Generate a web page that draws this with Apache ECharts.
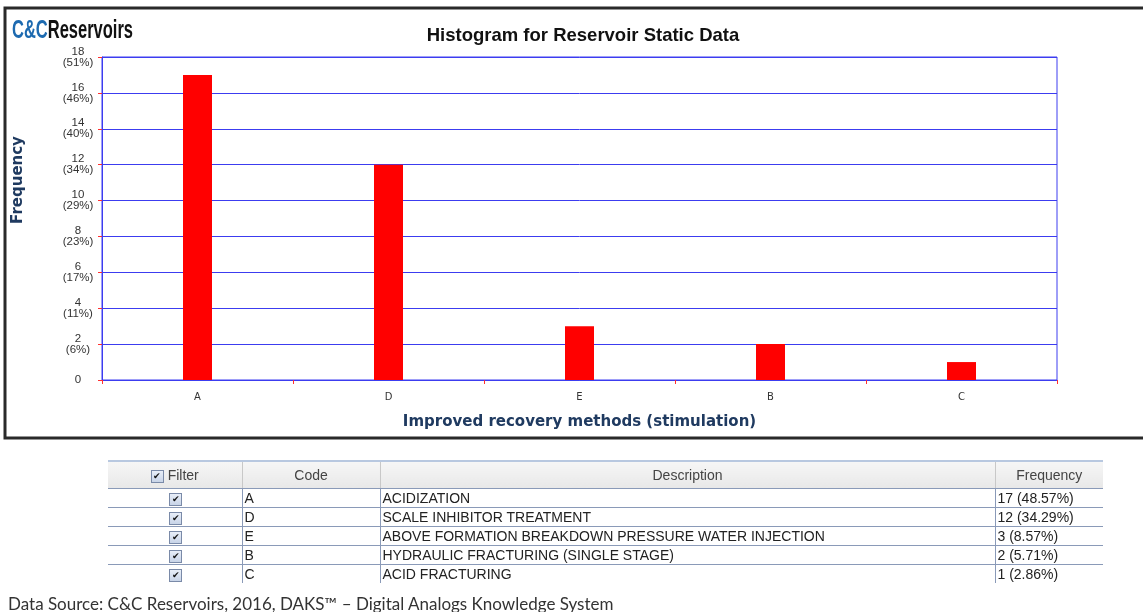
<!DOCTYPE html>
<html>
<head>
<meta charset="utf-8">
<script src="https://cdn.jsdelivr.net/npm/echarts@6/dist/echarts.min.js"></script>
<style>
  html, body { margin: 0; padding: 0; background: #fff; }
  #chart { position: absolute; left: 0; top: 0; width: 1143px; height: 612px; }
  #tbl { position: absolute; left: 108px; top: 460px; border-collapse: collapse; font-family: "Liberation Sans", Arial, sans-serif; font-size: 14px; color: #222; table-layout: fixed; }
  #tbl th { height: 26px; background: linear-gradient(#f6f6f6, #e8e8e8); font-weight: normal; color: #444; border-top: 2px solid #b8c8e0; border-left: 1px solid #c8c8c8; border-bottom: 1px solid #8a9ab8; padding: 0; }
  #tbl td { height: 18px; padding: 0 0 0 2px; border-left: 1px solid #8a9ab8; border-bottom: 1px solid #8a9ab8; white-space: nowrap; line-height: 18px; overflow: visible; }
  #tbl tr:last-child td { border-bottom: none; }
  #tbl th:first-child, #tbl td:first-child { border-left: none; }
  .cb { display: inline-block; width: 11px; height: 11px; border: 1px solid #7a8aa8; background: linear-gradient(#e8eef8, #c8d4e8); font-size: 9px; line-height: 11px; text-align: center; color: #111; vertical-align: middle; }
  #foot { position: absolute; left: 8px; top: 593px; font-family: Lato, "Open Sans", sans-serif; font-size: 17px; color: #333; white-space: nowrap; }
</style>
</head>
<body>
<div id="chart"></div>
<table id="tbl">
  <colgroup><col style="width:134px"><col style="width:138px"><col style="width:615px"><col style="width:108px"></colgroup>
  <thead><tr><th><span class="cb">✔</span> Filter</th><th>Code</th><th>Description</th><th>Frequency</th></tr></thead>
  <tbody id="tbody"></tbody>
</table>
<div id="foot">Data Source: C&amp;C Reservoirs, 2016, DAKS™ – Digital Analogs Knowledge System</div>
<script>
const categories = ['A', 'D', 'E', 'B', 'C'];
const frequencies = [17, 12, 3, 2, 1];
const descriptions = ['ACIDIZATION', 'SCALE INHIBITOR TREATMENT', 'ABOVE FORMATION BREAKDOWN PRESSURE WATER INJECTION', 'HYDRAULIC FRACTURING (SINGLE STAGE)', 'ACID FRACTURING'];
const freqLabels = ['17 (48.57%)', '12 (34.29%)', '3 (8.57%)', '2 (5.71%)', '1 (2.86%)'];
const yTicks = [0, 2, 4, 6, 8, 10, 12, 14, 16, 18];

const total = frequencies.reduce((a, b) => a + b, 0);

const tbody = document.getElementById('tbody');
categories.forEach((c, i) => {
  const tr = document.createElement('tr');
  tr.innerHTML = '<td style="text-align:center;padding-right:0"><span class="cb">✔</span></td><td>' + c + '</td><td>' + descriptions[i] + '</td><td>' + freqLabels[i] + '</td>';
  tbody.appendChild(tr);
});

const chart = echarts.init(document.getElementById('chart'), null, { renderer: 'canvas' });
const blue = '#3c3cf0';
const navy = '#1f3a60';
chart.setOption({
  animation: false,
  backgroundColor: '#fff',
  title: {
    text: 'Histogram for Reservoir Static Data',
    left: 578, top: 21, textAlign: 'center',
    textStyle: { fontFamily: 'Liberation Sans', fontWeight: 'bold', fontSize: 18.5, color: '#111' }
  },
  grid: { left: 102, top: 57, right: 86, bottom: 232, show: true, borderColor: blue, borderWidth: 1, backgroundColor: 'transparent' },
  xAxis: {
    type: 'category', data: categories,
    name: 'Improved recovery methods (stimulation)', nameLocation: 'middle', nameGap: 35,
    nameTextStyle: { fontFamily: 'DejaVu Sans', fontWeight: 'bold', fontSize: 15, color: navy },
    axisLine: { lineStyle: { color: blue, width: 1 } },
    axisTick: { show: true, length: 4, lineStyle: { color: '#ff3030' } },
    axisLabel: { margin: 12, fontFamily: 'DejaVu Sans', fontSize: 10, color: '#333' }
  },
  yAxis: {
    type: 'value', min: 0, max: 18, interval: 2,
    axisLine: { show: true, lineStyle: { color: blue, width: 1 } },
    axisTick: { show: true, length: 4, lineStyle: { color: '#ff3030' } },
    splitLine: { show: true, lineStyle: { color: blue, width: 1 } },
    axisLabel: {
      margin: 24, align: 'center', lineHeight: 11,
      fontFamily: 'Liberation Sans', fontSize: 11.5, color: '#333',
      formatter: v => v === 0 ? '0' : v + '\n(' + Math.round(v / total * 100) + '%)'
    }
  },
  series: [{
    type: 'bar', data: frequencies, barWidth: 29,
    itemStyle: { color: '#ff0000' }
  }],
  graphic: [
    { type: 'rect', shape: { x: 5, y: 8, width: 1150, height: 430 }, style: { fill: 'none', stroke: '#2a2a2a', lineWidth: 3 }, z: 10 },
    { type: 'text', x: 18, y: 180, rotation: Math.PI / 2, style: {
        text: 'Frequency', align: 'center', verticalAlign: 'middle',
        font: 'bold 15px "DejaVu Sans"', fill: navy
      }, z: 10 },
    { type: 'text', x: 12, y: 19, scaleX: 0.66, style: {
        text: '{c|C&C}{r|Reservoirs}',
        rich: {
          c: { fontFamily: 'Liberation Sans', fontWeight: 'bold', fontSize: 25, fill: '#1d6ab0' },
          r: { fontFamily: 'Liberation Sans', fontWeight: 'bold', fontSize: 25, fill: '#111' }
        }
      }, z: 10 }
  ]
});
</script>
</body>
</html>
